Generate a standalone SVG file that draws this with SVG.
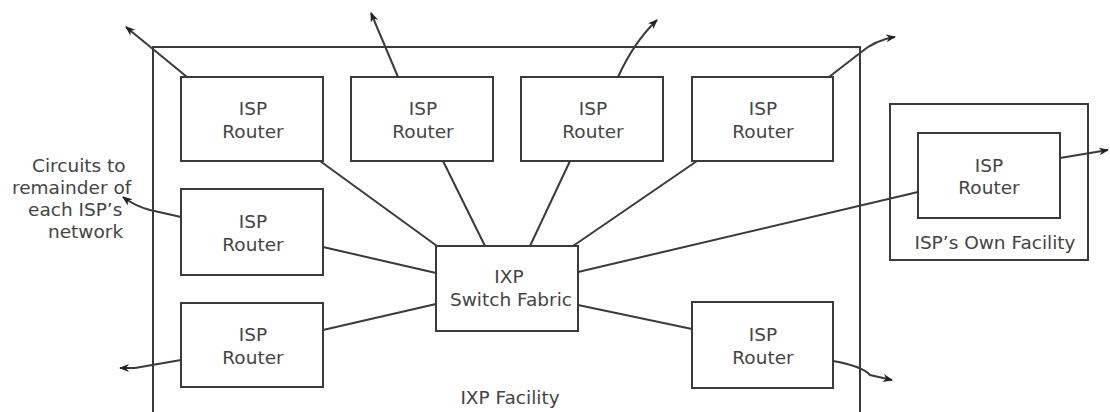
<svg xmlns="http://www.w3.org/2000/svg" width="1110" height="412" viewBox="0 0 1110 412">
<style>
.box{fill:#fff;stroke:#3a3a3a;stroke-width:2}
.ln{fill:none;stroke:#3a3a3a;stroke-width:2}
.t{font-family:"DejaVu Sans",sans-serif;font-size:18.5px;fill:#444;text-anchor:middle}
.ts{font-family:"DejaVu Sans",sans-serif;font-size:18.5px;fill:#444}
</style>
<defs>
<marker id="ah" markerWidth="10" markerHeight="8" refX="9" refY="4" orient="auto" markerUnits="userSpaceOnUse">
<path d="M0,0 L10,4 L0,8 L3,4 Z" fill="#222"/>
</marker>
</defs>
<g id="ixp-facility">
<path class="ln" d="M153,412 V47 H860 V412"/>
<text class="t" x="510" y="404">IXP Facility</text>
</g>
<g id="own-facility">
<rect class="box" x="890" y="104" width="198" height="156"/>
<text class="t" x="995" y="249">ISP’s Own Facility</text>
</g>
<g id="connectors">
<path class="ln" d="M187,77 L126,27" marker-end="url(#ah)"/>
<path class="ln" d="M398,77 L371,13" marker-end="url(#ah)"/>
<path class="ln" d="M618,77 Q634,42 657,20" marker-end="url(#ah)"/>
<path class="ln" d="M829,77 L860,53 Q875,40 895,37" marker-end="url(#ah)"/>
<path class="ln" d="M181,217 L150,210 Q135,206 123,197" marker-end="url(#ah)"/>
<path class="ln" d="M181,360 L135,368 L120,368" marker-end="url(#ah)"/>
<path class="ln" d="M833,361 Q862,366 870,375 L892,380" marker-end="url(#ah)"/>
<path class="ln" d="M1060,158 L1108,150" marker-end="url(#ah)"/>
<path class="ln" d="M320,161 L437,246"/>
<path class="ln" d="M443,161 L485,246"/>
<path class="ln" d="M570,161 L530,246"/>
<path class="ln" d="M697,161 L573,246"/>
<path class="ln" d="M323,247 L436,273"/>
<path class="ln" d="M323,330 L436,304"/>
<path class="ln" d="M578,272 L918,192"/>
<path class="ln" d="M578,305 L692,329"/>
</g>
<g id="router-1"><rect class="box" x="181" y="77" width="142" height="84"/><text class="t" x="253" y="115">ISP</text><text class="t" x="253" y="138">Router</text></g>
<g id="router-2"><rect class="box" x="351" y="77" width="142" height="84"/><text class="t" x="423" y="115">ISP</text><text class="t" x="423" y="138">Router</text></g>
<g id="router-3"><rect class="box" x="521" y="77" width="142" height="84"/><text class="t" x="593" y="115">ISP</text><text class="t" x="593" y="138">Router</text></g>
<g id="router-4"><rect class="box" x="692" y="77" width="141" height="84"/><text class="t" x="763" y="115">ISP</text><text class="t" x="763" y="138">Router</text></g>
<g id="router-5"><rect class="box" x="181" y="189" width="142" height="86"/><text class="t" x="253" y="228">ISP</text><text class="t" x="253" y="251">Router</text></g>
<g id="router-6"><rect class="box" x="181" y="303" width="142" height="84"/><text class="t" x="253" y="341">ISP</text><text class="t" x="253" y="364">Router</text></g>
<g id="router-7"><rect class="box" x="692" y="302" width="141" height="86"/><text class="t" x="763" y="341">ISP</text><text class="t" x="763" y="364">Router</text></g>
<g id="router-8"><rect class="box" x="918" y="133" width="142" height="85"/><text class="t" x="989" y="172">ISP</text><text class="t" x="989" y="194">Router</text></g>
<g id="switch-fabric"><rect class="box" x="436" y="246" width="142" height="85"/><text class="t" x="509" y="283">IXP</text><text class="t" x="511" y="306">Switch Fabric</text></g>
<g id="circuits-label">
<text class="ts" x="32" y="172">Circuits to</text>
<text class="ts" x="12" y="194">remainder of</text>
<text class="ts" x="28" y="216">each ISP’s</text>
<text class="ts" x="48" y="238">network</text>
</g>
</svg>
